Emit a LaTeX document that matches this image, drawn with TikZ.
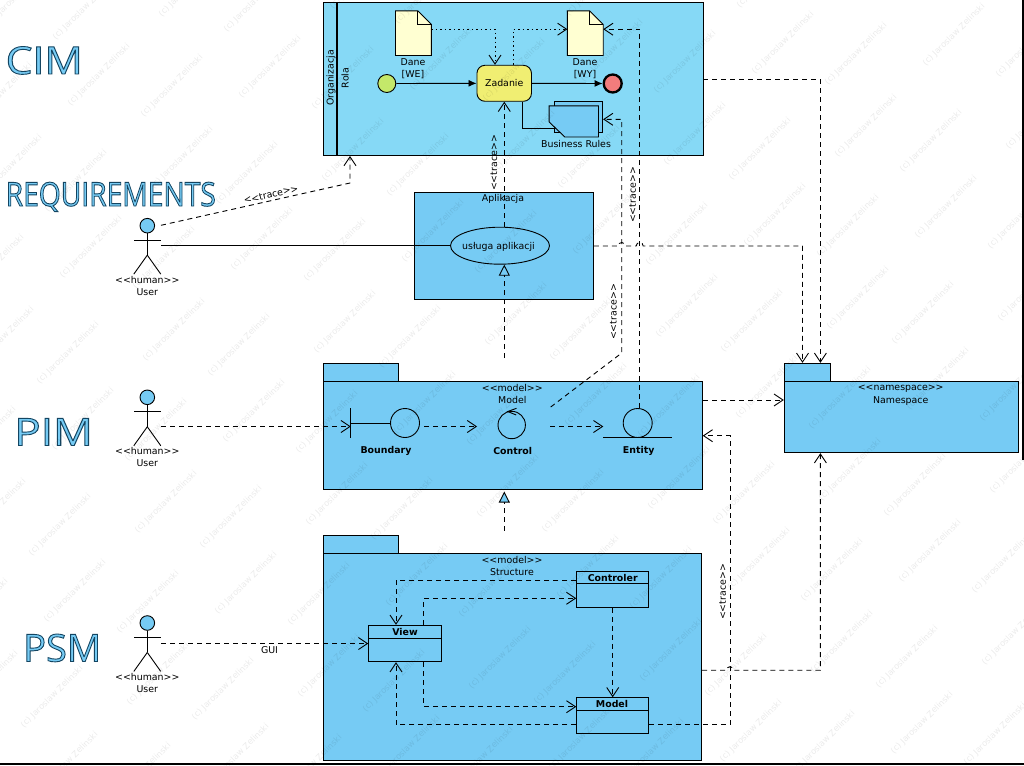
\documentclass[tikz,border=0pt]{standalone}
\usepackage{fontspec}
\setmainfont{DejaVu Sans}
\newfontfamily\titlefont{Open Sans}
\usetikzlibrary{arrows.meta,shapes.geometric}
\definecolor{poolblue}{HTML}{86D9F6}
\definecolor{boxblue}{HTML}{76CBF4}
\definecolor{docyellow}{HTML}{FFFFD2}
\definecolor{taskyellow}{HTML}{F0EE72}
\definecolor{startgreen}{HTML}{C4E86A}
\definecolor{endred}{HTML}{F27C7C}
\newcommand{\fsz}{\fontsize{9.4}{11}\selectfont}
\newcommand{\st}[1]{{<}{<}#1{>}{>}}
\newcommand{\outlined}[3]{\scalebox{#2}[1]{\titlefont\fontsize{#1}{#1}\selectfont\color{boxblue}\special{pdf:code 2 Tr 0.9 w 0.08 0.27 0.38 RG}#3\special{pdf:code 0 Tr}}}
\tikzset{
  lbl/.style={font=\fsz,inner sep=0pt,text=black},
  blbl/.style={font=\fsz\bfseries,inner sep=0pt,text=black},
  box/.style={draw=black,line width=0.9pt,fill=boxblue,rectangle,inner sep=0pt,minimum width=#1},
  plain/.style={line width=0.9pt,draw=black},
  dep/.style={line width=0.9pt,draw=black,dash pattern=on 5pt off 4pt,-{Straight Barb[length=9pt,width=12pt]}},
  dot/.style={line width=0.9pt,draw=black,dash pattern=on 1.5pt off 3pt,-{Straight Barb[length=9pt,width=12pt]}},
  flow/.style={line width=0.9pt,draw=black,-{Latex[length=8pt,width=7pt]}},
  realize/.style={line width=0.9pt,draw=black,dash pattern=on 5pt off 4pt,-{Triangle[length=11pt,width=11pt,fill=boxblue,sep=0pt]}},
  wm/.style={font=\fontsize{8.4}{10}\selectfont,text=black,text opacity=0.08,rotate=45,inner sep=0pt},
  title/.style={inner sep=0pt,anchor=base west},
}
\newcommand{\actor}[2]{%
  \node[circle,draw=black,line width=0.9pt,fill=boxblue,minimum size=14.6pt,inner sep=0pt] (#1) at (147.3,#2) {};
  \draw[plain] (#1.south) -- ++(0,21.7) coordinate (#1hip);
  \draw[plain] (134,#2+14.3) -- (161,#2+14.3);
  \draw[plain] (#1hip) -- ++(-13.5,19);
  \draw[plain] (#1hip) -- ++(13.5,19);
  \node[lbl] (#1hum) at (147.3,#2+54) {\st{human}};
  \node[lbl] (#1usr) at (147.3,#2+66) {User};
}
\begin{document}
\begin{tikzpicture}[x=1pt,y=-1pt]
\useasboundingbox[fill=white] (0,0) rectangle (1024,765);
\draw[line width=1.6pt] (0,764.2) -- (1024,764.2);
\draw[line width=1.6pt] (1023.2,0) -- (1023.2,460);

% titles
\node[title] (tCIM) at (5.5,74) {\outlined{38}{1.12}{CIM}};
\node[title] (tREQ) at (5.5,206) {\outlined{33}{0.855}{REQUIREMENTS}};
\node[title] (tPIM) at (14,445.5) {\outlined{38}{1.16}{PIM}};
\node[title] (tPSM) at (23,661.5) {\outlined{38}{1.0}{PSM}};

% CIM pool
\node[box=379.5pt,fill=poolblue,minimum height=153.5pt] (pool) at (513.25,78.75) {};
\draw[line width=1.8pt] (336.7,2) -- (336.7,155.5);
\node[lbl,rotate=90] (org) at (331,78) {Organizacja};
\node[lbl,rotate=90] (rola) at (345,78) {Rola};

% documents
\node[rectangle,minimum width=35.4pt,minimum height=44.3pt,inner sep=0pt] (doc1) at (413.4,33.2) {};
\node[rectangle,minimum width=35.4pt,minimum height=44.3pt,inner sep=0pt] (doc2) at (585.3,33.2) {};
\foreach \d in {doc1,doc2}{
  \draw[plain,fill=docyellow] (\d.north west) -- ([xshift=-13.5pt]\d.north east) -- ([yshift=-13.5pt]\d.north east) -- (\d.south east) -- (\d.south west) -- cycle;
  \draw[plain] ([xshift=-13.5pt]\d.north east) -- ([xshift=-13.5pt,yshift=-13.5pt]\d.north east) -- ([yshift=-13.5pt]\d.north east);
}
\node[lbl] (d1a) at (413,62.3) {Dane};
\node[lbl] (d1b) at (413,75) {[WE]};
\node[lbl] (d2a) at (585,62.3) {Dane};
\node[lbl] (d2b) at (585,75) {[WY]};

\node[circle,draw=black,line width=0.9pt,fill=startgreen,minimum size=18pt,inner sep=0pt] (start) at (386.8,83.5) {};
\node[rectangle,rounded corners=8pt,draw=black,line width=0.9pt,fill=taskyellow,minimum width=54.5pt,minimum height=36pt,inner sep=0pt,font=\fsz] (task) at (504.2,83.3) {Zadanie};
\node[circle,draw=black,line width=2.3pt,fill=endred,minimum size=18pt,inner sep=0pt] (end) at (612.7,83.5) {};

% business rules
\node[rectangle,draw=black,line width=0.9pt,fill=boxblue,minimum width=48.7pt,minimum height=30.7pt,inner sep=0pt] (brback) at (578.3,116.7) {};
\node[rectangle,minimum width=49pt,minimum height=30.7pt,inner sep=0pt] (brf) at (573.8,121.4) {};
\coordinate (brin) at (556,128.3);
\draw[plain] ([xshift=18.5pt]task.south) |- (brin);
\draw[plain,fill=boxblue] (brf.north west) -- (brf.north east) -- (brf.south east) -- ([xshift=15.7pt]brf.south west) -- ([yshift=15pt]brf.south west) -- cycle;
\node[lbl] (brl) at (576,143.7) {Business Rules};

\draw[flow] (start) -- (task);
\draw[flow] (task) -- (end);
\coordinate (e1) at (495,29.2);
\coordinate (e2) at (513.2,29.2);
\draw[dot] (doc1.east |- e1) -- (e1) -- (e1 |- task.north);
\draw[dot] (e2 |- task.north) -- (e2) -- (e2 -| doc2.west);

% Aplikacja
\node[box=179.3pt,minimum height=107pt] (app) at (503.65,245.5) {};
\node[lbl] (appl) at (503,199) {Aplikacja};
\node[ellipse,draw=black,line width=0.9pt,fill=boxblue,minimum width=99pt,minimum height=37pt,inner sep=0pt] (uc) at (500,245.7) {};
\node[lbl] (ucl) at (498.5,246.6) {usługa aplikacji};

% PIM package
\node[box=75.2pt,minimum height=17.8pt] (pimtab) at (361.1,372.4) {};
\node[box=378.8pt,minimum height=107.8pt] (pim) at (512.9,435.2) {};
\node[lbl] (pims) at (512.3,388) {\st{model}};
\node[lbl] (pimn) at (512.3,400.3) {Model};

% boundary
\node[circle,draw=black,line width=0.9pt,minimum size=29pt,inner sep=0pt] (bnd) at (405,423) {};
\coordinate (bar1) at (350.8,408);
\coordinate (bar2) at (350.8,438);
\draw[line width=1pt] (bar1) -- (bar2);
\draw[plain] (350.8,423) -- (bnd.west);
\node[blbl] (bndl) at (386,451) {Boundary};
% control
\node[circle,draw=black,line width=0.9pt,minimum size=27.4pt,inner sep=0pt] (ctl) at (511.7,425) {};
\draw[plain] (516.5,408.3) -- (507.7,411.5) -- (516.2,415);
\node[blbl] (ctll) at (512.7,451) {Control};
% entity
\node[circle,draw=black,line width=0.9pt,minimum size=29pt,inner sep=0pt] (ent) at (637.7,423) {};
\coordinate (ent1) at (603.3,437.4);
\coordinate (ent2) at (672.3,437.4);
\draw[plain] (ent1) -- (ent2);
\node[blbl] (entl) at (638.7,451) {Entity};

% PSM package
\node[box=75.2pt,minimum height=18.3pt] (psmtab) at (361.1,544.2) {};
\node[box=378.2pt,minimum height=206.7pt] (psm) at (512.6,656.7) {};
\node[lbl] (psms) at (512,559.5) {\st{model}};
\node[lbl] (psmn) at (512,572) {Structure};

% classes
\node[box=72.6pt,minimum height=36.4pt] (view) at (405,643.5) {};
\draw[plain] (view.west |- 0,638.3) -- (view.east |- 0,638.3);
\node[blbl] (viewl) at (405,632) {View};
\node[box=72pt,minimum height=36pt] (ctr) at (612.7,589.3) {};
\draw[plain] (ctr.west |- 0,583.3) -- (ctr.east |- 0,583.3);
\node[blbl] (ctrl) at (612.7,577.5) {Controler};
\node[box=72pt,minimum height=36pt] (mdl) at (612.7,715.7) {};
\draw[plain] (mdl.west |- 0,710.3) -- (mdl.east |- 0,710.3);
\node[blbl] (mdll) at (612,704) {Model};

% namespace
\node[box=46.2pt,minimum height=18pt] (nstab) at (807.4,372.3) {};
\node[box=234.4pt,minimum height=71.4pt] (ns) at (901.5,417) {};
\node[lbl] (nss) at (900.7,389) {\st{namespace}};
\node[lbl] (nsn) at (900.7,401.5) {Namespace};

% actors
\actor{ua}{225.7}
\actor{ub}{397.3}
\actor{uc2}{623}

% connectors
\coordinate (ua1) at (161,225.3);
\coordinate (ua2) at (350,183);
\draw[dep] (ua1) -- (ua2) -- (ua2 |- pool.south);
\node[lbl,rotate=13] (tr1) at (271,194.5) {\st{trace}};
\coordinate (ua3) at (161,245.7);
\draw[plain] (ua3) -- (uc.west);

\coordinate (t1) at (504.3,200);
\draw[dep] (uc.north -| t1) -- (task.south -| t1);
\node[lbl,rotate=90] (tr2) at (494,163) {\st{trace}};

\coordinate (t2a) at (550.7,407);
\coordinate (t2b) at (621.7,353);
\coordinate (t2c) at (621.7,119.3);
\draw[dep] (t2a) -- (t2b) -- (t2c) -- (t2c -| brback.east);
\node[lbl,rotate=90] (tr3) at (613.5,312) {\st{trace}};

\coordinate (t3) at (639.7,29.2);
\draw[dep] (ent.north -| t3) -- (t3) -- (t3 -| doc2.east);
\node[lbl,rotate=90] (tr4) at (632.7,195) {\st{trace}};

\coordinate (n1) at (820.4,79);
\draw[dep] (n1 -| pool.east) -- (n1) -- (n1 |- nstab.north);

\coordinate (h1) at (621.7,246);
\coordinate (h2) at (639.7,246);
\coordinate (n2) at (802.5,246);
\draw[dep] (app.east |- h1) -- ([xshift=-3.5pt]h1) arc[start angle=180,end angle=360,radius=3.5] -- ([xshift=-3.5pt]h2) arc[start angle=180,end angle=360,radius=3.5] -- (n2) -- (n2 |- nstab.north);

\coordinate (r1) at (504.3,358);
\draw[realize] (r1) -- (uc.south -| r1);
\coordinate (r2) at (504.3,530.5);
\draw[realize,shorten >=2pt] (r2) -- (pim.south -| r2);

\coordinate (p1) at (703,400);
\draw[dep] (p1) -- (ns.west |- p1);

\coordinate (ub1) at (161,426.5);
\draw[dep] (ub1) -- (bar1 |- ub1);
\coordinate (b1) at (424,426.5);
\coordinate (b2) at (477,426.5);
\draw[dep] (b1) -- (b2);
\coordinate (c1) at (550,426.5);
\draw[dep] (c1) -- (ent1 |- c1);

\coordinate (uc1) at (161,643.5);
\draw[dep] (uc1) -- (view.west |- uc1);
\node[lbl] (gui) at (269.5,650.5) {GUI};

\coordinate (v1) at (396,580.5);
\draw[dep] (ctr.west |- v1) -- (v1) -- (v1 |- view.north);
\coordinate (v2) at (423.7,598.3);
\draw[dep] (v2 |- view.north) -- (v2) -- (v2 -| ctr.west);
\draw[dep] (ctr.south) -- (mdl.north);
\coordinate (v3) at (423.7,706.7);
\draw[dep] (v3 |- view.south) -- (v3) -- (v3 -| mdl.west);
\coordinate (v4) at (396,724.7);
\draw[dep] (mdl.west |- v4) -- (v4) -- (v4 |- view.south);

\coordinate (m1) at (730,724.7);
\coordinate (m2) at (730,435.7);
\draw[dep] (mdl.east |- m1) -- (m1) -- (m2) -- (m2 -| pim.east);
\node[lbl,rotate=90] (tr5) at (722.7,592) {\st{trace}};

\coordinate (h3) at (730,670.2);
\coordinate (m3) at (820.4,670.2);
\draw[dep] (psm.east |- h3) -- ([xshift=-3.5pt]h3) arc[start angle=180,end angle=360,radius=3.5] -- (m3) -- (m3 |- ns.south);

% watermark
\foreach \m in {-5,...,2}{
 \foreach \n in {-1,...,4}{
  \foreach \dx/\dy in {0/0,73/11,-23/106,83/83}{
   \pgfmathsetmacro{\wx}{783+171*\m-8*\n+\dx}
   \pgfmathsetmacro{\wy}{43-8*\m+172*\n+\dy}
   \pgfmathparse{(\wx>-30 && \wx<1054 && \wy>-30 && \wy<795)?1:0}
   \ifnum\pgfmathresult=1
    \node[wm] (wm\m w\n w\dx) at (\wx,\wy) {(c) Jaroslaw Zelinski};
   \fi
  }
 }
}
\end{tikzpicture}
\end{document}
